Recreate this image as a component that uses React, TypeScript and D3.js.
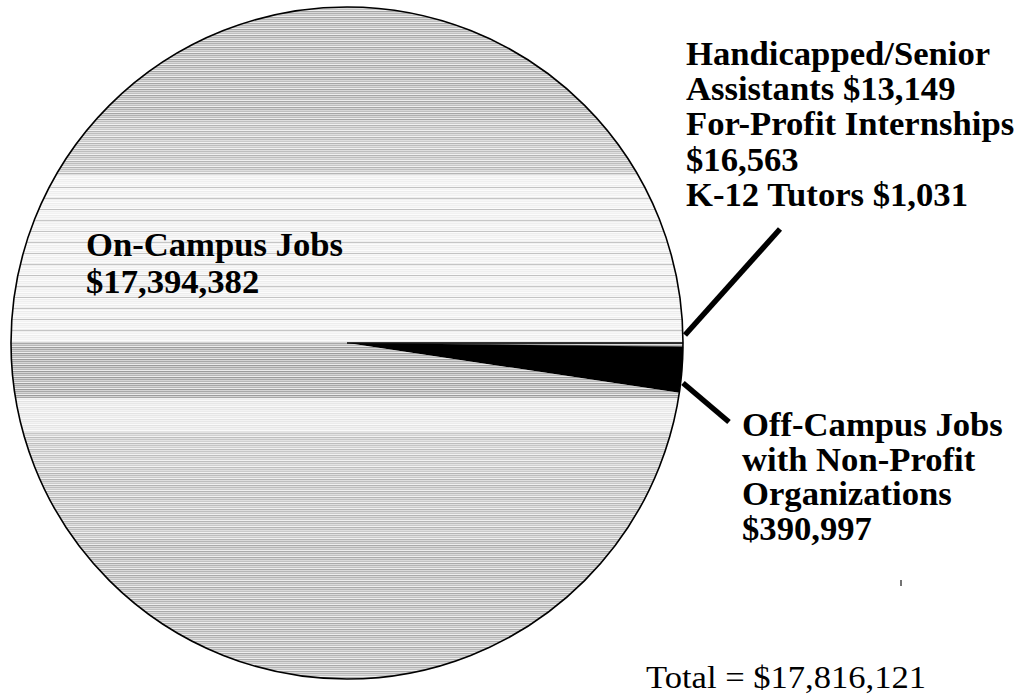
import React from "react";
import * as d3 from "d3";

// ---- data ----
const categories = [
  "Handicapped/Senior Assistants",
  "For-Profit Internships",
  "K-12 Tutors",
  "Off-Campus Jobs with Non-Profit Organizations",
  "On-Campus Jobs",
];
const values = [13149, 16563, 1031, 390997, 17394382];
const totalLabel = "Total = $17,816,121";
const rightTopLines = [
  "Handicapped/Senior",
  "Assistants $13,149",
  "For-Profit Internships",
  "$16,563",
  "K-12 Tutors $1,031",
];
const offCampusLines = ["Off-Campus Jobs", "with Non-Profit", "Organizations", "$390,997"];
const onCampusLines = ["On-Campus Jobs", "$17,394,382"];

// ---- style ----
const W = 1029;
const H = 696;
const cx = 347;
const cy = 343;
const R = 336;
const sliceFill = ["url(#stripes)", "url(#stripes)", "url(#stripes)", "#000", "url(#stripes)"];
// lighter (mostly white) horizontal bands in the scanned texture, as [y0, y1, whiteOpacity]
const lightBands: [number, number, number][] = [
  [0, 120, 0.1],
  [120, 175, 0.25],
  [175, 342, 0.82],
  [398, 432, 0.72],
  [432, 470, 0.35],
  [470, 540, 0.25],
  [540, 700, 0.15],
];

export default function App() {
  const pie = d3
    .pie<number>()
    .sort(null)
    .value((d) => d)
    .startAngle(Math.PI / 2)
    .endAngle(Math.PI / 2 + 2 * Math.PI);
  const arcs = pie(values);
  const arcGen = d3.arc<d3.PieArcDatum<number>>().innerRadius(0).outerRadius(R);

  const boldStyle: React.CSSProperties = {
    fontFamily: "'Liberation Serif', 'Times New Roman', serif",
    fontWeight: 700,
    fontSize: 33,
  };
  const lh = 35.2;
  const sx = 1.05;

  return (
    <svg
      width={W}
      height={H}
      viewBox={`0 0 ${W} ${H}`}
      style={{ position: "absolute", left: 0, top: 0, background: "#fff" }}
    >
      <defs>
        <pattern id="stripes" patternUnits="userSpaceOnUse" width={8} height={6}>
          <rect width={8} height={6} fill="#d4d4d4" />
          <rect y={0} width={8} height={1} fill="#a8a8a8" />
          <rect y={2} width={8} height={1} fill="#b8b8b8" />
          <rect y={3} width={8} height={1} fill="#ececec" />
          <rect y={4} width={8} height={1} fill="#9c9c9c" />
        </pattern>
        <pattern id="thinLines" patternUnits="userSpaceOnUse" width={8} height={11}>
          <rect y={0} width={8} height={1} fill="#b0b0b0" />
        </pattern>
        <clipPath id="onCampusClip">
          <path d={arcGen(arcs[4]) || ""} transform={`translate(${cx},${cy})`} />
        </clipPath>
      </defs>

      <g transform={`translate(${cx},${cy})`}>
        {arcs.map((a, i) => (
          <path
            key={categories[i]}
            d={arcGen(a) || ""}
            fill={sliceFill[i]}
            stroke={i === 3 ? "#000" : "none"}
            strokeWidth={0.5}
          />
        ))}
      </g>

      <g clipPath="url(#onCampusClip)">
        {lightBands.map(([y0, y1, o], i) => (
          <rect key={i} x={0} y={y0} width={W} height={y1 - y0} fill="#fff" opacity={o} />
        ))}
        <rect x={0} y={178} width={W} height={162} fill="url(#thinLines)" opacity={0.7} />
      </g>

      {/* top edge of the small slices */}
      <g transform={`translate(${cx},${cy})`}>
        {(() => {
          const a = arcs[0].startAngle;
          return (
            <line
              x1={0}
              y1={0}
              x2={R * Math.sin(a)}
              y2={-R * Math.cos(a)}
              stroke="#000"
              strokeWidth={1.5}
            />
          );
        })()}
        <circle r={R} fill="none" stroke="#000" strokeWidth={1.6} />
      </g>

      {/* leader lines */}
      <line x1={685} y1={335} x2={780} y2={229} stroke="#000" strokeWidth={5.5} />
      <line x1={683} y1={383} x2={729} y2={422} stroke="#000" strokeWidth={5.5} />
      <line x1={901} y1={580} x2={901} y2={586} stroke="#444" strokeWidth={1.5} />

      {/* labels */}
      <g transform={`translate(86,256) scale(${sx},1)`} style={boldStyle}>
        {onCampusLines.map((t, i) => (
          <text key={t} x={0} y={i * 37}>
            {t}
          </text>
        ))}
      </g>
      <g transform={`translate(686,65) scale(${sx},1)`} style={boldStyle}>
        {rightTopLines.map((t, i) => (
          <text key={t} x={0} y={i * lh}>
            {t}
          </text>
        ))}
      </g>
      <g transform={`translate(742,436) scale(${sx},1)`} style={boldStyle}>
        {offCampusLines.map((t, i) => (
          <text key={t} x={0} y={i * 34.7}>
            {t}
          </text>
        ))}
      </g>
      <g transform={`translate(646,688) scale(1.08,1)`}>
        <text
          x={0}
          y={0}
          style={{ fontFamily: "'Liberation Serif', 'Times New Roman', serif", fontSize: 32 }}
        >
          {totalLabel}
        </text>
      </g>
    </svg>
  );
}
